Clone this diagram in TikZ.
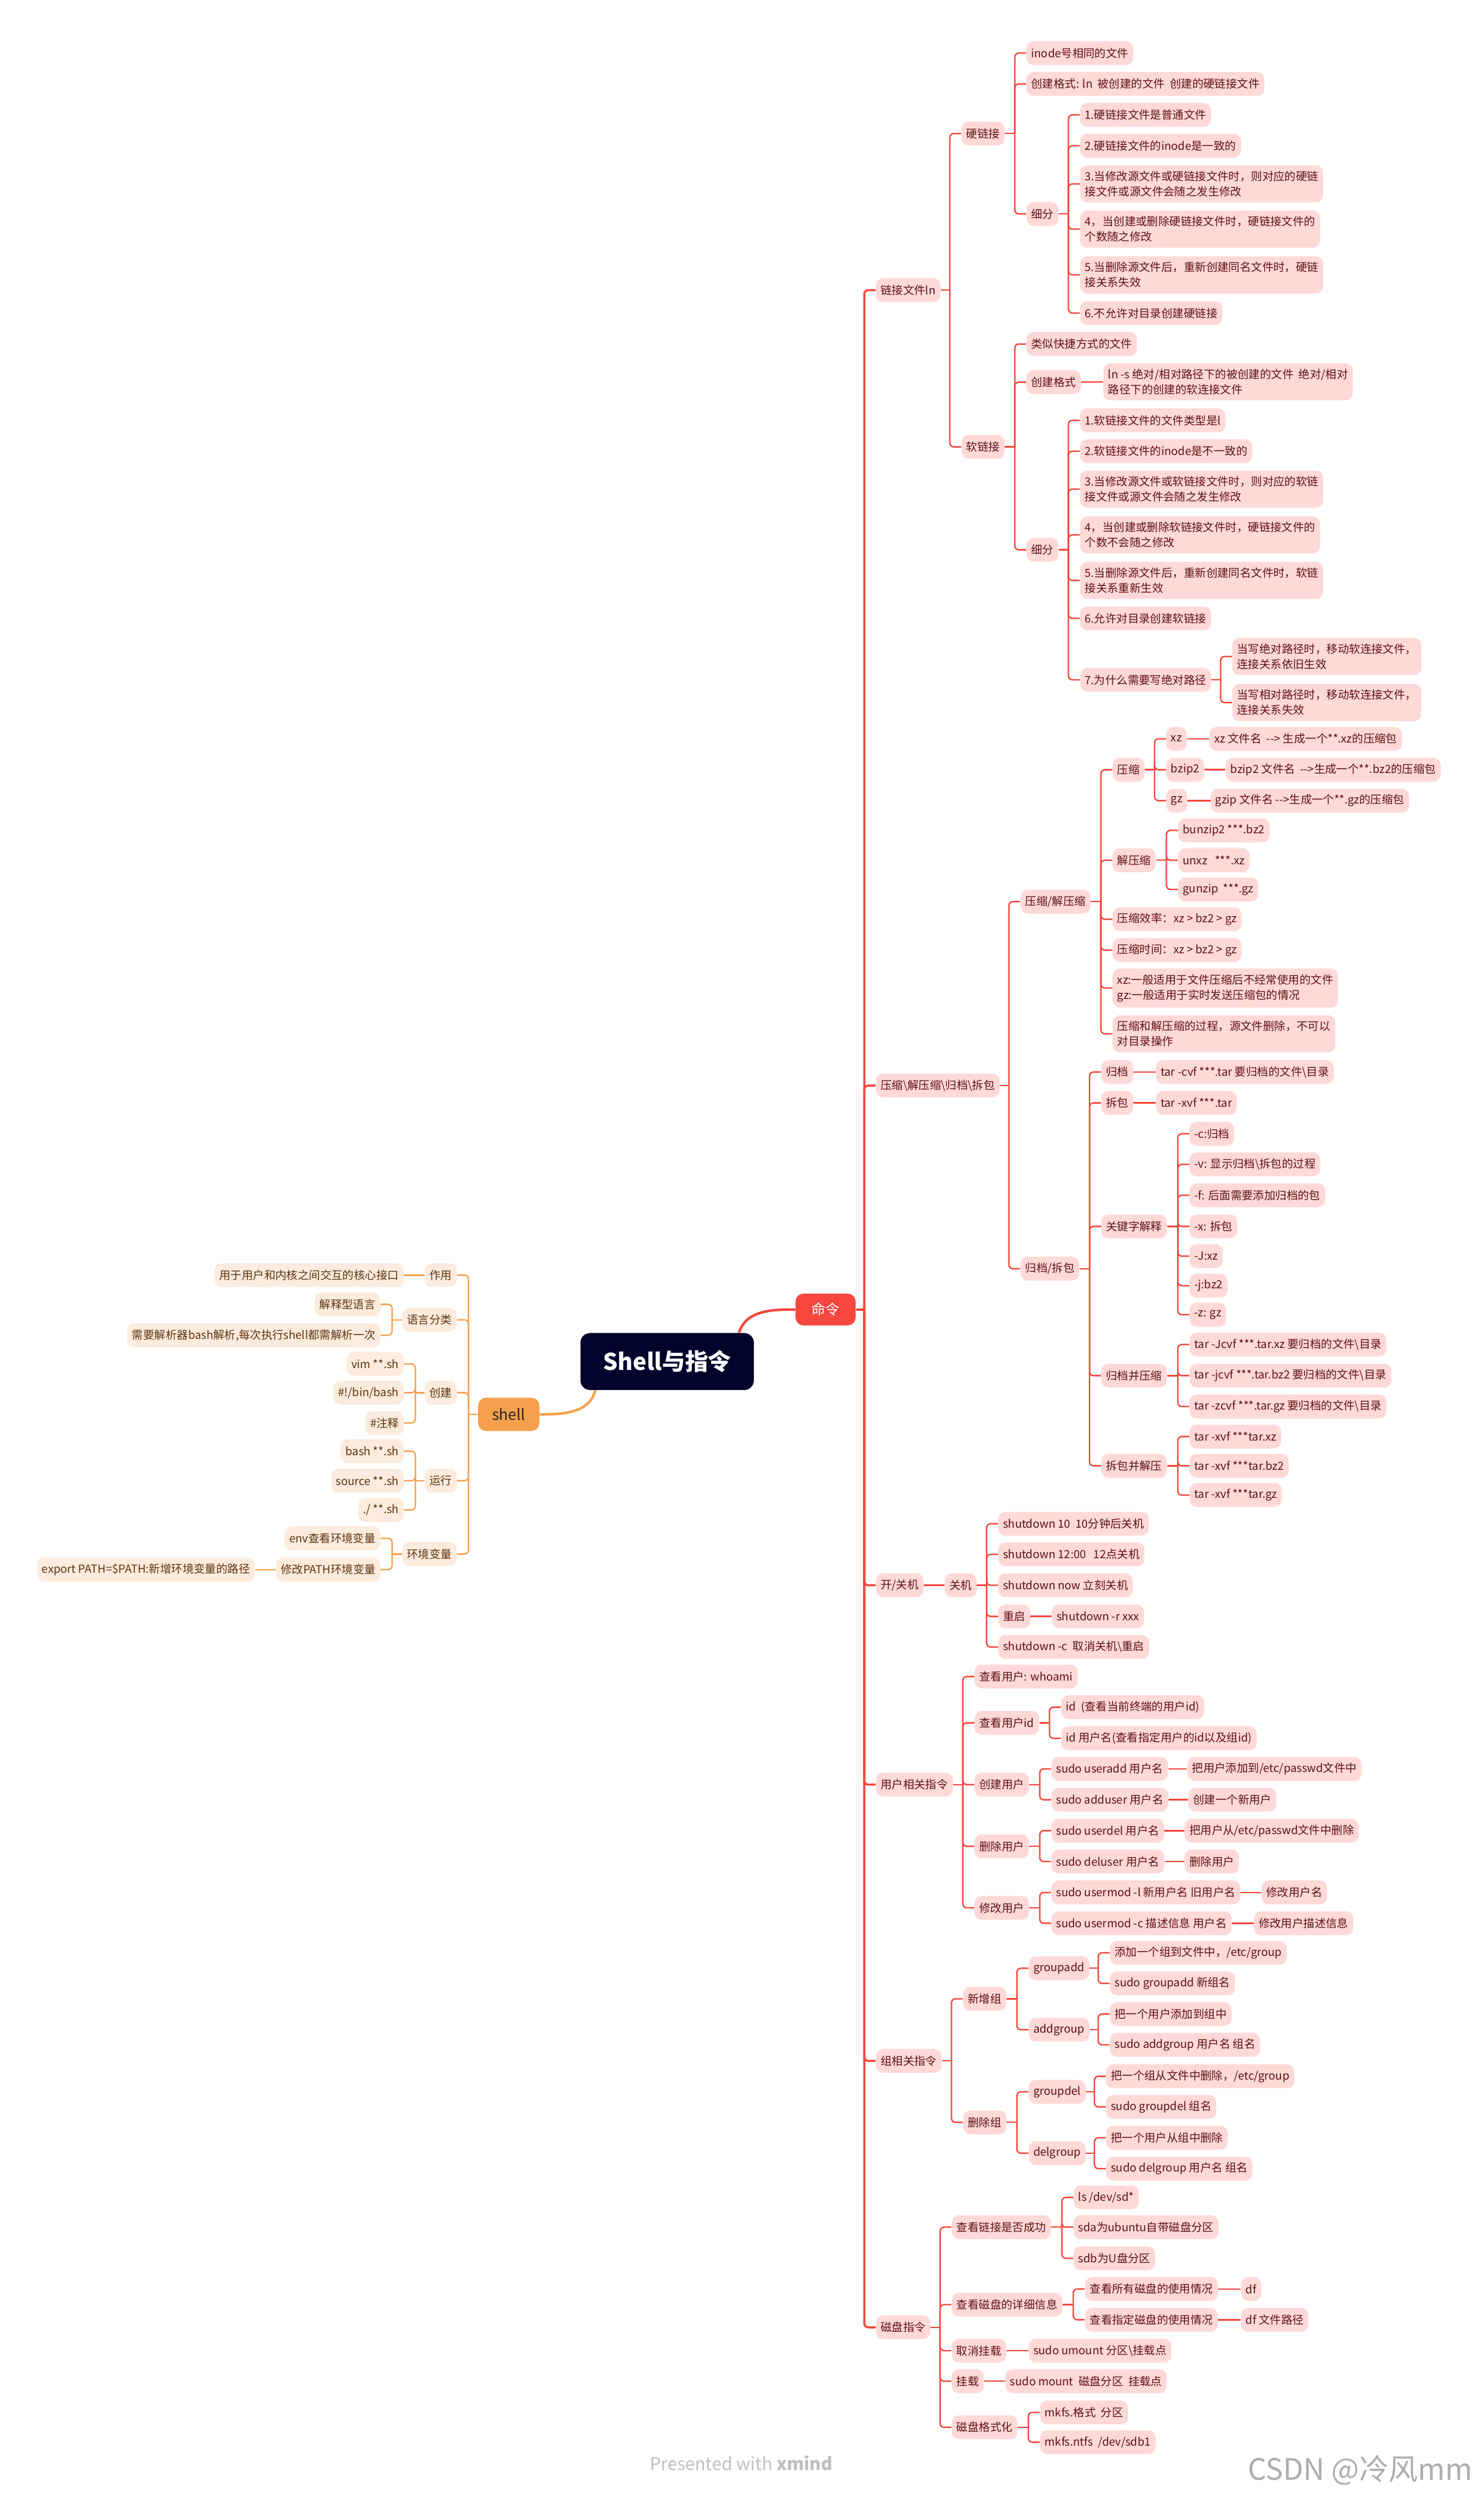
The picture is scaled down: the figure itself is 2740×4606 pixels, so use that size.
\documentclass[tikz,border=0pt]{standalone}
\usepackage{fontspec}
\newfontfamily\cjk{Noto Sans CJK SC}
\usetikzlibrary{calc}
\definecolor{pinkF}{HTML}{FFD9D8}
\definecolor{redT}{HTML}{5C1111}
\definecolor{redL}{HTML}{F5473D}
\definecolor{peachF}{HTML}{FDEBDD}
\definecolor{brownT}{HTML}{5B3410}
\definecolor{orL}{HTML}{F6A14F}
\definecolor{rootF}{HTML}{01032B}
\definecolor{shellF}{HTML}{F5A04C}
\newcommand\bs{\textbackslash}
\newcommand\dd{-\kern0pt-}
\tikzset{
  mmbox/.style={rounded corners=4.5pt, inner xsep=3pt, inner ysep=3.6pt,
    minimum height=15pt, align=left, font=\cjk\fontsize{7.05}{9.6}\selectfont},
  rbox/.style={mmbox, fill=pinkF, text=redT, anchor=west},
  obox/.style={mmbox, fill=peachF, text=brownT, anchor=east},
  rl/.style={draw=redL, line width=0.9pt},
  ol/.style={draw=orL, line width=0.9pt},
  l1/.style={line width=1.3pt},
}
% right-hand nodes are placed by their left edge, left-hand ones by their right edge
\newcommand\mkR[4]{\node[rbox] (#1) at (#2,#3) {#4};}
\newcommand\mkL[4]{\node[obox] (#1) at (#2,#3) {#4};}
% elbow connector: stub to the trunk, then a rounded turn into the child
\newcommand\toR[3][]{%
  \draw[rl,#1] (#2.east) -- ($(#2.east -| #3.west)+(-21,0)$);
  \draw[rl,rounded corners=2.5pt,#1] ($(#2.east -| #3.west)+(-21,0)$) |- (#3.west);}
\newcommand\toL[3][]{%
  \draw[ol,#1] (#2.west) -- ($(#2.west -| #3.east)+(21,0)$);
  \draw[ol,rounded corners=2.5pt,#1] ($(#2.west -| #3.east)+(21,0)$) |- (#3.east);}
\newcommand\lineR[2]{\draw[rl] (#1.east) -- (#2.west);}
\newcommand\lineL[2]{\draw[ol] (#1.west) -- (#2.east);}
\begin{document}
\begin{tikzpicture}[x=0.3405pt,y=-0.3405pt]
\fill[white] (0,0) rectangle (2740,4606);
\useasboundingbox (0,0) rectangle (2740,4606);

% central topics
\node[fill=rootF, text=white, rounded corners=6pt, minimum width=109pt, minimum height=35.8pt,
  font=\cjk\bfseries\fontsize{14.5}{18}\selectfont] (root) at (1232,2513.5) {Shell与指令};
\node[fill=redL, text=white, rounded corners=5pt, minimum width=37.8pt, minimum height=20pt,
  font=\cjk\fontsize{9}{11}\selectfont] (cmd) at (1524.5,2417.5) {命令};
\node[fill=shellF, text=black!85, rounded corners=5pt, minimum width=38.5pt, minimum height=21pt,
  font=\cjk\fontsize{9.5}{11}\selectfont] (shell) at (939.5,2611) {shell};

% ---- link files
\mkR{n1}{1617}{535.5}{链接文件ln}
\mkR{hard}{1775}{246.5}{硬链接}
\mkR{h1}{1895}{98}{inode号相同的文件}
\mkR{h2}{1895}{155}{创建格式: ln~~被创建的文件~~创建的硬链接文件}
\mkR{h3}{1895}{395}{细分}
\mkR{h31}{1994}{212}{1.硬链接文件是普通文件}
\mkR{h32}{1994}{269}{2.硬链接文件的inode是一致的}
\mkR{h33}{1994}{339.5}{3.当修改源文件或硬链接文件时，则对应的硬链\\接文件或源文件会随之发生修改}
\mkR{h34}{1994}{423}{4，当创建或删除硬链接文件时，硬链接文件的\\个数随之修改}
\mkR{h35}{1994}{507.5}{5.当删除源文件后，重新创建同名文件时，硬链\\接关系失效}
\mkR{h36}{1994}{578}{6.不允许对目录创建硬链接}
\mkR{soft}{1775}{825}{软链接}
\mkR{s1}{1895}{635}{类似快捷方式的文件}
\mkR{s2}{1895}{705.5}{创建格式}
\mkR{s21}{2037}{705}{ln -s 绝对/相对路径下的被创建的文件~~绝对/相对\\路径下的创建的软连接文件}
\mkR{s3}{1895}{1015}{细分}
\mkR{s31}{1994}{776}{1.软链接文件的文件类型是l}
\mkR{s32}{1994}{833}{2.软链接文件的inode是不一致的}
\mkR{s33}{1994}{903}{3.当修改源文件或软链接文件时，则对应的软链\\接文件或源文件会随之发生修改}
\mkR{s34}{1994}{987.5}{4，当创建或删除软链接文件时，硬链接文件的\\个数不会随之修改}
\mkR{s35}{1994}{1071.5}{5.当删除源文件后，重新创建同名文件时，软链\\接关系重新生效}
\mkR{s36}{1994}{1141.5}{6.允许对目录创建软链接}
\mkR{s37}{1994}{1255}{7.为什么需要写绝对路径}
\mkR{s371}{2275}{1212}{当写绝对路径时，移动软连接文件，\\连接关系依旧生效}
\mkR{s372}{2275}{1297}{当写相对路径时，移动软连接文件，\\连接关系失效}

% ---- compression and archives
\mkR{n2}{1617}{2004}{压缩\bs 解压缩\bs 归档\bs 拆包}
\mkR{cz}{1884}{1664.5}{压缩/解压缩}
\mkR{cz1}{2054}{1421}{压缩}
\mkR{xz}{2153}{1364}{xz}
\mkR{xzl}{2233}{1364}{xz 文件名~~\dd> 生成一个**.xz的压缩包}
\mkR{bz}{2153}{1421}{bzip2}
\mkR{bzl}{2263}{1421}{bzip2 文件名~~\dd>生成一个**.bz2的压缩包}
\mkR{gz}{2153}{1478}{gz}
\mkR{gzl}{2235}{1478}{gzip 文件名 \dd>生成一个**.gz的压缩包}
\mkR{cz2}{2054}{1588}{解压缩}
\mkR{un1}{2175}{1533}{bunzip2 ***.bz2}
\mkR{un2}{2175}{1588}{unxz~~~***.xz}
\mkR{un3}{2175}{1642}{gunzip~~***.gz}
\mkR{cz3}{2054}{1697}{压缩效率：xz > bz2 > gz}
\mkR{cz4}{2054}{1754}{压缩时间：xz > bz2 > gz}
\mkR{cz5}{2054}{1824}{xz:一般适用于文件压缩后不经常使用的文件\\gz:一般适用于实时发送压缩包的情况}
\mkR{cz6}{2054}{1908.5}{压缩和解压缩的过程，源文件删除，不可以\\对目录操作}
\mkR{ar}{1884}{2342}{归档/拆包}
\mkR{ar1}{2033}{1979}{归档}
\mkR{ar1l}{2134}{1979}{tar -cvf ***.tar 要归档的文件\bs 目录}
\mkR{ar2}{2033}{2036}{拆包}
\mkR{ar2l}{2134}{2036}{tar -xvf ***.tar}
\mkR{ar3}{2033}{2264}{关键字解释}
\mkR{k1}{2196}{2093}{-c:归档}
\mkR{k2}{2196}{2149.5}{-v: 显示归档\bs 拆包的过程}
\mkR{k3}{2196}{2206.5}{-f: 后面需要添加归档的包}
\mkR{k4}{2196}{2264}{-x: 拆包}
\mkR{k5}{2196}{2319}{-J:xz}
\mkR{k6}{2196}{2373.5}{-j:bz2}
\mkR{k7}{2196}{2427}{-z: gz}
\mkR{ar4}{2033}{2539.5}{归档并压缩}
\mkR{p1}{2196}{2482}{tar -Jcvf ***.tar.xz 要归档的文件\bs 目录}
\mkR{p2}{2196}{2539.5}{tar -jcvf ***.tar.bz2 要归档的文件\bs 目录}
\mkR{p3}{2196}{2596.5}{tar -zcvf ***.tar.gz 要归档的文件\bs 目录}
\mkR{ar5}{2033}{2706}{拆包并解压}
\mkR{q1}{2196}{2652}{tar -xvf ***tar.xz}
\mkR{q2}{2196}{2706}{tar -xvf ***tar.bz2}
\mkR{q3}{2196}{2760}{tar -xvf ***tar.gz}

% ---- power
\mkR{n3}{1617}{2926.5}{开/关机}
\mkR{pw}{1744}{2926.5}{关机}
\mkR{pw1}{1843}{2813}{shutdown 10~~10分钟后关机}
\mkR{pw2}{1843}{2869.5}{shutdown 12:00~~~12点关机}
\mkR{pw3}{1843}{2926.5}{shutdown now 立刻关机}
\mkR{pw4}{1843}{2984}{重启}
\mkR{pw4l}{1942}{2984}{shutdown -r xxx}
\mkR{pw5}{1843}{3040.5}{shutdown -c~~取消关机\bs 重启}

% ---- users
\mkR{n4}{1617}{3294.5}{用户相关指令}
\mkR{u1}{1799}{3095}{查看用户: whoami}
\mkR{u2}{1799}{3180.5}{查看用户id}
\mkR{u21}{1959}{3151.5}{id~~(查看当前终端的用户id)}
\mkR{u22}{1959}{3209}{id 用户名(查看指定用户的id以及组id)}
\mkR{u3}{1799}{3294.5}{创建用户}
\mkR{u31}{1941}{3265.5}{sudo useradd 用户名}
\mkR{u31l}{2192}{3265.5}{把用户添加到/etc/passwd文件中}
\mkR{u32}{1941}{3322.5}{sudo adduser 用户名}
\mkR{u32l}{2194}{3322.5}{创建一个新用户}
\mkR{u4}{1799}{3408.5}{删除用户}
\mkR{u41}{1941}{3379.5}{sudo userdel 用户名}
\mkR{u41l}{2187}{3379.5}{把用户从/etc/passwd文件中删除}
\mkR{u42}{1941}{3436.5}{sudo deluser 用户名}
\mkR{u42l}{2187}{3436.5}{删除用户}
\mkR{u5}{1799}{3522}{修改用户}
\mkR{u51}{1941}{3493.5}{sudo usermod -l 新用户名 旧用户名}
\mkR{u51l}{2329}{3493.5}{修改用户名}
\mkR{u52}{1941}{3550.5}{sudo usermod -c 描述信息 用户名}
\mkR{u52l}{2315}{3550.5}{修改用户描述信息}

% ---- groups
\mkR{n5}{1617}{3804.5}{组相关指令}
\mkR{g1}{1778}{3690}{新增组}
\mkR{g11}{1899}{3633.5}{groupadd}
\mkR{g111}{2049}{3605}{添加一个组到文件中，/etc/group}
\mkR{g112}{2049}{3661.5}{sudo groupadd 新组名}
\mkR{g12}{1899}{3747}{addgroup}
\mkR{g121}{2049}{3718}{把一个用户添加到组中}
\mkR{g122}{2049}{3775}{sudo addgroup 用户名 组名}
\mkR{g2}{1778}{3918}{删除组}
\mkR{g21}{1899}{3861.5}{groupdel}
\mkR{g211}{2042}{3833}{把一个组从文件中删除，/etc/group}
\mkR{g212}{2042}{3889.5}{sudo groupdel 组名}
\mkR{g22}{1899}{3975}{delgroup}
\mkR{g221}{2042}{3946.5}{把一个用户从组中删除}
\mkR{g222}{2042}{4003.5}{sudo delgroup 用户名 组名}

% ---- disks
\mkR{n6}{1617}{4296.5}{磁盘指令}
\mkR{d1}{1757}{4111.5}{查看链接是否成功}
\mkR{d11}{1982}{4056.5}{ls /dev/sd*}
\mkR{d12}{1982}{4111.5}{sda为ubuntu自带磁盘分区}
\mkR{d13}{1982}{4169}{sdb为U盘分区}
\mkR{d2}{1757}{4254.5}{查看磁盘的详细信息}
\mkR{d21}{2003}{4225.5}{查看所有磁盘的使用情况}
\mkR{d21l}{2291}{4225.5}{df}
\mkR{d22}{2003}{4282.5}{查看指定磁盘的使用情况}
\mkR{d22l}{2291}{4282.5}{df 文件路径}
\mkR{d3}{1757}{4339.5}{取消挂载}
\mkR{d3l}{1899}{4339.5}{sudo umount 分区\bs 挂载点}
\mkR{d4}{1757}{4396}{挂载}
\mkR{d4l}{1856}{4396}{sudo mount~~磁盘分区~~挂载点}
\mkR{d5}{1757}{4481}{磁盘格式化}
\mkR{d51}{1920}{4453.5}{mkfs.格式~~分区}
\mkR{d52}{1920}{4508.5}{mkfs.ntfs~~/dev/sdb1}

% ---- shell branch (left)
\mkL{L1}{844}{2354}{作用}
\mkL{L1a}{746}{2354}{用于用户和内核之间交互的核心接口}
\mkL{L2}{844}{2436.5}{语言分类}
\mkL{L2a}{703}{2408}{解释型语言}
\mkL{L2b}{703}{2465}{需要解析器bash解析,每次执行shell都需解析一次}
\mkL{L3}{844}{2571}{创建}
\mkL{L3a}{746}{2518}{vim **.sh}
\mkL{L3b}{746}{2571}{\#!/bin/bash}
\mkL{L3c}{746}{2627}{\#注释}
\mkL{L4}{844}{2733.5}{运行}
\mkL{L4a}{746}{2679}{bash **.sh}
\mkL{L4b}{746}{2733.5}{source **.sh}
\mkL{L4c}{746}{2787.5}{./ **.sh}
\mkL{L5}{844}{2869}{环境变量}
\mkL{L5a}{703}{2840}{env查看环境变量}
\mkL{L5b}{703}{2897.5}{修改PATH环境变量}
\mkL{L5c}{471}{2897.5}{export PATH=\$PATH:新增环境变量的路径}

% ---- connectors
\draw[rl,line width=1.6pt] ($(root.north east)+(-28,0)$) to[out=72,in=180] (cmd.west);
\draw[ol,line width=1.6pt] ($(root.south west)+(28,0)$) to[out=-105,in=0] (shell.east);

\foreach \cc in {n1,n2,n3,n4,n5,n6} {\toR[l1]{cmd}{\cc}}
\foreach \cc in {hard,soft} {\toR{n1}{\cc}}
\foreach \cc in {h1,h2,h3} {\toR{hard}{\cc}}
\foreach \cc in {h31,h32,h33,h34,h35,h36} {\toR{h3}{\cc}}
\foreach \cc in {s1,s2,s3} {\toR{soft}{\cc}}
\lineR{s2}{s21}
\foreach \cc in {s31,s32,s33,s34,s35,s36,s37} {\toR{s3}{\cc}}
\foreach \cc in {s371,s372} {\toR{s37}{\cc}}

\foreach \cc in {cz,ar} {\toR{n2}{\cc}}
\foreach \cc in {cz1,cz2,cz3,cz4,cz5,cz6} {\toR{cz}{\cc}}
\foreach \cc in {xz,bz,gz} {\toR{cz1}{\cc}}
\lineR{xz}{xzl} \lineR{bz}{bzl} \lineR{gz}{gzl}
\foreach \cc in {un1,un2,un3} {\toR{cz2}{\cc}}
\foreach \cc in {ar1,ar2,ar3,ar4,ar5} {\toR{ar}{\cc}}
\lineR{ar1}{ar1l} \lineR{ar2}{ar2l}
\foreach \cc in {k1,k2,k3,k4,k5,k6,k7} {\toR{ar3}{\cc}}
\foreach \cc in {p1,p2,p3} {\toR{ar4}{\cc}}
\foreach \cc in {q1,q2,q3} {\toR{ar5}{\cc}}

\lineR{n3}{pw}
\foreach \cc in {pw1,pw2,pw3,pw4,pw5} {\toR{pw}{\cc}}
\lineR{pw4}{pw4l}

\foreach \cc in {u1,u2,u3,u4,u5} {\toR{n4}{\cc}}
\foreach \cc in {u21,u22} {\toR{u2}{\cc}}
\foreach \cc in {u31,u32} {\toR{u3}{\cc}}
\foreach \cc in {u41,u42} {\toR{u4}{\cc}}
\foreach \cc in {u51,u52} {\toR{u5}{\cc}}
\lineR{u31}{u31l} \lineR{u32}{u32l} \lineR{u41}{u41l}
\lineR{u42}{u42l} \lineR{u51}{u51l} \lineR{u52}{u52l}

\foreach \cc in {g1,g2} {\toR{n5}{\cc}}
\foreach \cc in {g11,g12} {\toR{g1}{\cc}}
\foreach \cc in {g21,g22} {\toR{g2}{\cc}}
\foreach \cc in {g111,g112} {\toR{g11}{\cc}}
\foreach \cc in {g121,g122} {\toR{g12}{\cc}}
\foreach \cc in {g211,g212} {\toR{g21}{\cc}}
\foreach \cc in {g221,g222} {\toR{g22}{\cc}}

\foreach \cc in {d1,d2,d3,d4,d5} {\toR{n6}{\cc}}
\foreach \cc in {d11,d12,d13} {\toR{d1}{\cc}}
\foreach \cc in {d21,d22} {\toR{d2}{\cc}}
\lineR{d21}{d21l} \lineR{d22}{d22l} \lineR{d3}{d3l} \lineR{d4}{d4l}
\foreach \cc in {d51,d52} {\toR{d5}{\cc}}

\foreach \cc in {L1,L2,L3,L4,L5} {\toL{shell}{\cc}}
\lineL{L1}{L1a}
\foreach \cc in {L2a,L2b} {\toL{L2}{\cc}}
\foreach \cc in {L3a,L3b,L3c} {\toL{L3}{\cc}}
\foreach \cc in {L4a,L4b,L4c} {\toL{L4}{\cc}}
\foreach \cc in {L5a,L5b} {\toL{L5}{\cc}}
\lineL{L5b}{L5c}

% footer texts
\node[text=black!25, font=\cjk\fontsize{11}{13}\selectfont] (credit) at (1369,4547)
  {Presented with \textbf{xmind}};
\node[text=black!32, font=\cjk\fontsize{18.5}{21}\selectfont] (mark) at (2512,4560) {CSDN @冷风mm};
\end{tikzpicture}
\end{document}
